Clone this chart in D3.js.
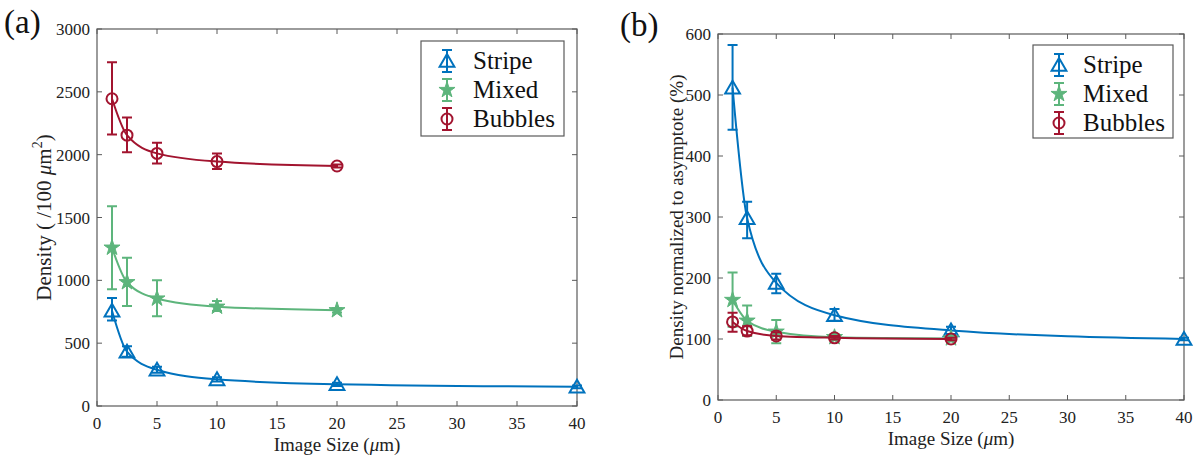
<!DOCTYPE html>
<meta charset="utf-8">
<body style="margin:0;background:#fff">
<div id="chart"></div>
<script src="https://d3js.org/d3.v7.min.js"></script>
<script>

// image sizes (um)
var sizes = [1.25, 2.5, 5, 10, 20, 40];

// panel (a): density per 100 um^2
var stripeA   = [758, 432, 288, 212, 173, 153];
var stripeALo = [680, 392, 265, 195, 160, 142];
var stripeAHi = [860, 475, 312, 228, 186, 164];
var mixedA    = [1260, 985, 855, 790, 762];
var mixedALo  = [930, 795, 715, 755, 745];
var mixedAHi  = [1590, 1180, 1000, 835, 778];
var bubblesA   = [2445, 2155, 2010, 1945, 1910];
var bubblesALo = [2160, 2020, 1930, 1885, 1897];
var bubblesAHi = [2735, 2295, 2095, 2010, 1922];

// panel (b): normalized to asymptote (%)
var stripeB   = [512, 298, 192, 139, 114, 100];
var stripeBLo = [443, 265, 175, 130, 108, 98];
var stripeBHi = [582, 325, 207, 149, 120, 102];
var mixedB    = [164, 130, 112, 103, 101];
var mixedBLo  = [120, 105, 93, 98, 98];
var mixedBHi  = [209, 155, 131, 108, 104];
var bubblesB   = [128, 113, 105, 102, 100];
var bubblesBLo = [112, 106, 99, 99, 98];
var bubblesBHi = [143, 121, 111, 105, 102];

var xTicks = [0, 5, 10, 15, 20, 25, 30, 35, 40];
var yTicksA = [0, 500, 1000, 1500, 2000, 2500, 3000];
var yTicksB = [0, 100, 200, 300, 400, 500, 600];
var seriesNames = ["Stripe", "Mixed", "Bubbles"];

var colors = {Stripe: "#0072BD", Mixed: "#5DB57C", Bubbles: "#A2142F"};
var font = "Liberation Serif";
var axisColor = "#5a5a5a";

var svg = d3.select("#chart").append("svg")
    .attr("width", 1198)
    .attr("height", 459)
    .attr("font-family", font);

function pack(vals, lo, hi) {
  return vals.map(function(v, i) { return {x: sizes[i], y: v, lo: lo[i], hi: hi[i]}; });
}

function marker(g, name, color) {
  if (name === "Stripe") {
    g.append("path").attr("d", d3.symbol(d3.symbolTriangle, 95)())
      .attr("transform", "translate(0,1.5)")
      .attr("fill", "none").attr("stroke", color).attr("stroke-width", 2);
  } else if (name === "Mixed") {
    g.append("path").attr("d", d3.symbol(d3.symbolStar, 80)())
      .attr("fill", color).attr("stroke", color).attr("stroke-width", 1);
  } else {
    g.append("circle").attr("r", 5.5)
      .attr("fill", "none").attr("stroke", color).attr("stroke-width", 2);
  }
}

function panel(opt) {
  var x = d3.scaleLinear().domain([0, 40]).range([opt.left, opt.right]);
  var y = d3.scaleLinear().domain(opt.yDomain).range([opt.bottom, opt.top]);
  var g = svg.append("g");

  // box
  g.append("rect")
    .attr("x", opt.left).attr("y", opt.top)
    .attr("width", opt.right - opt.left).attr("height", opt.bottom - opt.top)
    .attr("fill", "none").attr("stroke", axisColor).attr("stroke-width", 1.2);

  // ticks, inward on all sides
  var tl = 5;
  xTicks.forEach(function(t) {
    g.append("line").attr("x1", x(t)).attr("x2", x(t))
      .attr("y1", opt.bottom).attr("y2", opt.bottom - tl).attr("stroke", axisColor);
    g.append("line").attr("x1", x(t)).attr("x2", x(t))
      .attr("y1", opt.top).attr("y2", opt.top + tl).attr("stroke", axisColor);
    g.append("text").attr("x", x(t)).attr("y", opt.bottom + 23)
      .attr("font-family", font)
      .attr("text-anchor", "middle").attr("font-size", "17px").attr("fill", "#222")
      .text(t);
  });
  opt.yTicks.forEach(function(t) {
    g.append("line").attr("x1", opt.left).attr("x2", opt.left + tl)
      .attr("y1", y(t)).attr("y2", y(t)).attr("stroke", axisColor);
    g.append("line").attr("x1", opt.right).attr("x2", opt.right - tl)
      .attr("y1", y(t)).attr("y2", y(t)).attr("stroke", axisColor);
    g.append("text").attr("x", opt.left - 7).attr("y", y(t) + 6)
      .attr("font-family", font)
      .attr("text-anchor", "end").attr("font-size", "17px").attr("fill", "#222")
      .text(t);
  });

  // x axis title
  var xt = g.append("text")
    .attr("x", (opt.left + opt.right) / 2).attr("y", opt.bottom + 45)
    .attr("font-family", font)
    .attr("text-anchor", "middle").attr("font-size", "19px").attr("fill", "#222");
  xt.append("tspan").text("Image Size (");
  xt.append("tspan").attr("font-style", "italic").text("\u03bc");
  xt.append("tspan").text("m)");

  // y axis title
  var yt = g.append("text")
    .attr("transform", "translate(" + opt.yLabelX + "," + ((opt.top + opt.bottom) / 2) + ") rotate(-90)")
    .attr("font-family", font)
    .attr("text-anchor", "middle").attr("font-size", opt.yLabelSize).attr("fill", "#222");
  opt.yLabel(yt);

  // panel letter
  svg.append("text").attr("x", opt.letterX).attr("y", opt.letterY)
    .attr("font-family", font)
    .attr("font-size", "33px").attr("fill", "#111").text(opt.letter);

  var line = d3.line()
    .x(function(d) { return x(d.x); })
    .y(function(d) { return y(d.y); })
    .curve(d3.curveMonotoneX);

  opt.series.forEach(function(s) {
    var c = colors[s.name];
    var sg = g.append("g");
    sg.append("path").datum(s.data)
      .attr("d", line).attr("fill", "none")
      .attr("stroke", c).attr("stroke-width", 2);

    // error bars
    sg.selectAll(".eb").data(s.data).enter().append("path")
      .attr("fill", "none").attr("stroke", c).attr("stroke-width", 2)
      .attr("d", function(d) {
        var cx = x(d.x), w = 5;
        return "M" + cx + "," + y(d.lo) + "V" + y(d.hi) +
          "M" + (cx - w) + "," + y(d.lo) + "H" + (cx + w) +
          "M" + (cx - w) + "," + y(d.hi) + "H" + (cx + w);
      });

    sg.selectAll(".mk").data(s.data).enter().append("g")
      .attr("transform", function(d) { return "translate(" + x(d.x) + "," + y(d.y) + ")"; })
      .each(function() { marker(d3.select(this), s.name, c); });
  });

  // legend
  var L = opt.legend;
  g.append("rect").attr("x", L.x).attr("y", L.y).attr("width", L.w).attr("height", L.h)
    .attr("fill", "#fff").attr("stroke", axisColor).attr("stroke-width", 1.2);
  seriesNames.forEach(function(name, i) {
    var c = colors[name];
    var cy = L.y + 20 + i * 29;
    var lg = g.append("g").attr("transform", "translate(" + L.mx + "," + cy + ")");
    lg.append("path").attr("fill", "none").attr("stroke", c).attr("stroke-width", 2)
      .attr("d", "M0,-11V11M-5,-11H5M-5,11H5");
    marker(lg, name, c);
    g.append("text").attr("x", L.tx).attr("y", cy + 8)
      .attr("font-family", font)
      .attr("font-size", "25px").attr("fill", "#111").text(name);
  });
}

panel({
  left: 97, right: 577, top: 29, bottom: 406,
  yDomain: [0, 3000], yTicks: yTicksA,
  yLabelX: 51, yLabelSize: "21px", letter: "(a)", letterX: 4, letterY: 33,
  yLabel: function(t) {
    t.append("tspan").text("Density ( /100 ");
    t.append("tspan").attr("font-style", "italic").text("\u03bc");
    t.append("tspan").text("m");
    t.append("tspan").attr("dy", -9).attr("font-size", "14px").text("2");
    t.append("tspan").attr("dy", 9).text(")");
  },
  legend: {x: 421, y: 41, w: 143, h: 95, mx: 447, tx: 473},
  series: [
    {name: "Stripe", data: pack(stripeA, stripeALo, stripeAHi)},
    {name: "Mixed", data: pack(mixedA, mixedALo, mixedAHi)},
    {name: "Bubbles", data: pack(bubblesA, bubblesALo, bubblesAHi)}
  ]
});

panel({
  left: 718, right: 1184, top: 34, bottom: 400,
  yDomain: [0, 600], yTicks: yTicksB,
  yLabelX: 683, yLabelSize: "19px", letter: "(b)", letterX: 620, letterY: 36,
  yLabel: function(t) { t.text("Density normalized to asymptote (%)"); },
  legend: {x: 1033, y: 45, w: 140, h: 93, mx: 1059, tx: 1083},
  series: [
    {name: "Stripe", data: pack(stripeB, stripeBLo, stripeBHi)},
    {name: "Mixed", data: pack(mixedB, mixedBLo, mixedBHi)},
    {name: "Bubbles", data: pack(bubblesB, bubblesBLo, bubblesBHi)}
  ]
});

</script>
</body>
